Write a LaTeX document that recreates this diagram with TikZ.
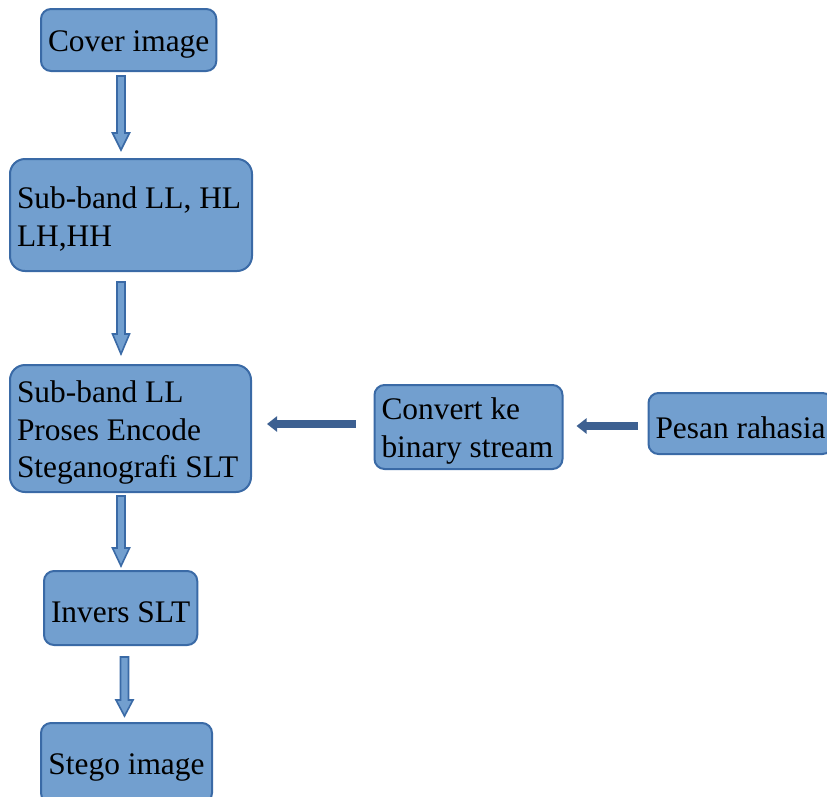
\documentclass[tikz,border=0pt]{standalone}
\usepackage{fontspec}
\setmainfont{Liberation Serif}
\usetikzlibrary{arrows.meta,calc}
\definecolor{boxfill}{RGB}{114,159,207}
\definecolor{boxdraw}{RGB}{58,106,166}
\definecolor{harrowc}{RGB}{61,96,145}
\tikzset{
  box/.style={draw=boxdraw, fill=boxfill, line width=2pt, rounded corners=10pt,
    anchor=north west, inner xsep=7pt, inner ysep=0pt, text height=30pt,
    font=\fontsize{31.4}{37.5}\selectfont, text=black},
  bigbox/.style={box, rounded corners=15pt},
  barrow/.style={draw=boxdraw, fill=boxfill, line width=1.6pt, line join=miter},
  harrow/.style={draw=harrowc, line width=8pt, -{Triangle[width=15pt,length=10pt]}}
}
% #1 x centre, #2 top node, #3 top gap, #4 bottom node, #5 bottom gap, #6 head length
\newcommand\varrowblk[6]{%
  \draw[barrow] let \p1=(#2.south), \p2=(#4.north) in
   (#1pt-4pt,\y1-#3pt) -- (#1pt+4pt,\y1-#3pt) -- (#1pt+4pt,\y2+#5pt+#6pt)
   -- (#1pt+8.5pt,\y2+#5pt+#6pt) -- (#1pt,\y2+#5pt) -- (#1pt-8.5pt,\y2+#5pt+#6pt)
   -- (#1pt-4pt,\y2+#5pt+#6pt) -- cycle;}
\begin{document}
\begin{tikzpicture}[x=1pt,y=1pt]
\useasboundingbox (0,0) rectangle (827,-796);
\node[box, minimum width=173pt, minimum height=62pt, align=center] (cover) at (40,-8) {Cover image};
\node[bigbox, minimum width=242pt, minimum height=112pt, text width=228pt, align=flush left] (sub1) at (9,-158) {Sub-band LL, HL\\LH,HH};
\node[bigbox, minimum width=241pt, minimum height=127pt, text width=227pt, align=flush left] (sub2) at (9,-364) {Sub-band LL\\Proses Encode\\Steganografi SLT};
\node[box, minimum width=153pt, minimum height=74pt, align=center] (inv) at (43,-570) {Invers SLT};
\node[box, minimum width=171pt, minimum height=80pt, align=center] (stego) at (40,-722) {Stego image};
\node[box, minimum width=188pt, minimum height=84pt, text width=174pt, align=flush left] (conv) at (373.5,-384) {Convert ke\\binary stream};
\node[box, minimum width=184pt, minimum height=61pt, text width=170pt, align=flush left] (pesan) at (647.5,-392) {Pesan rahasia};

\varrowblk{121}{cover}{4}{sub1}{8}{17}
\varrowblk{121}{sub1}{10}{sub2}{10}{20}
\varrowblk{121}{sub2}{3}{inv}{4}{18}
\varrowblk{124.5}{inv}{11}{stego}{6}{16}

\draw[harrow] ([xshift=-18pt,yshift=3pt]conv.west) coordinate (h1) -- ($(h1 -| sub2.east)+(15,0)$);
\draw[harrow] ([xshift=-10pt,yshift=-2.5pt]pesan.west) coordinate (h2) -- ($(h2 -| conv.east)+(13,0)$);
\end{tikzpicture}
\end{document}
